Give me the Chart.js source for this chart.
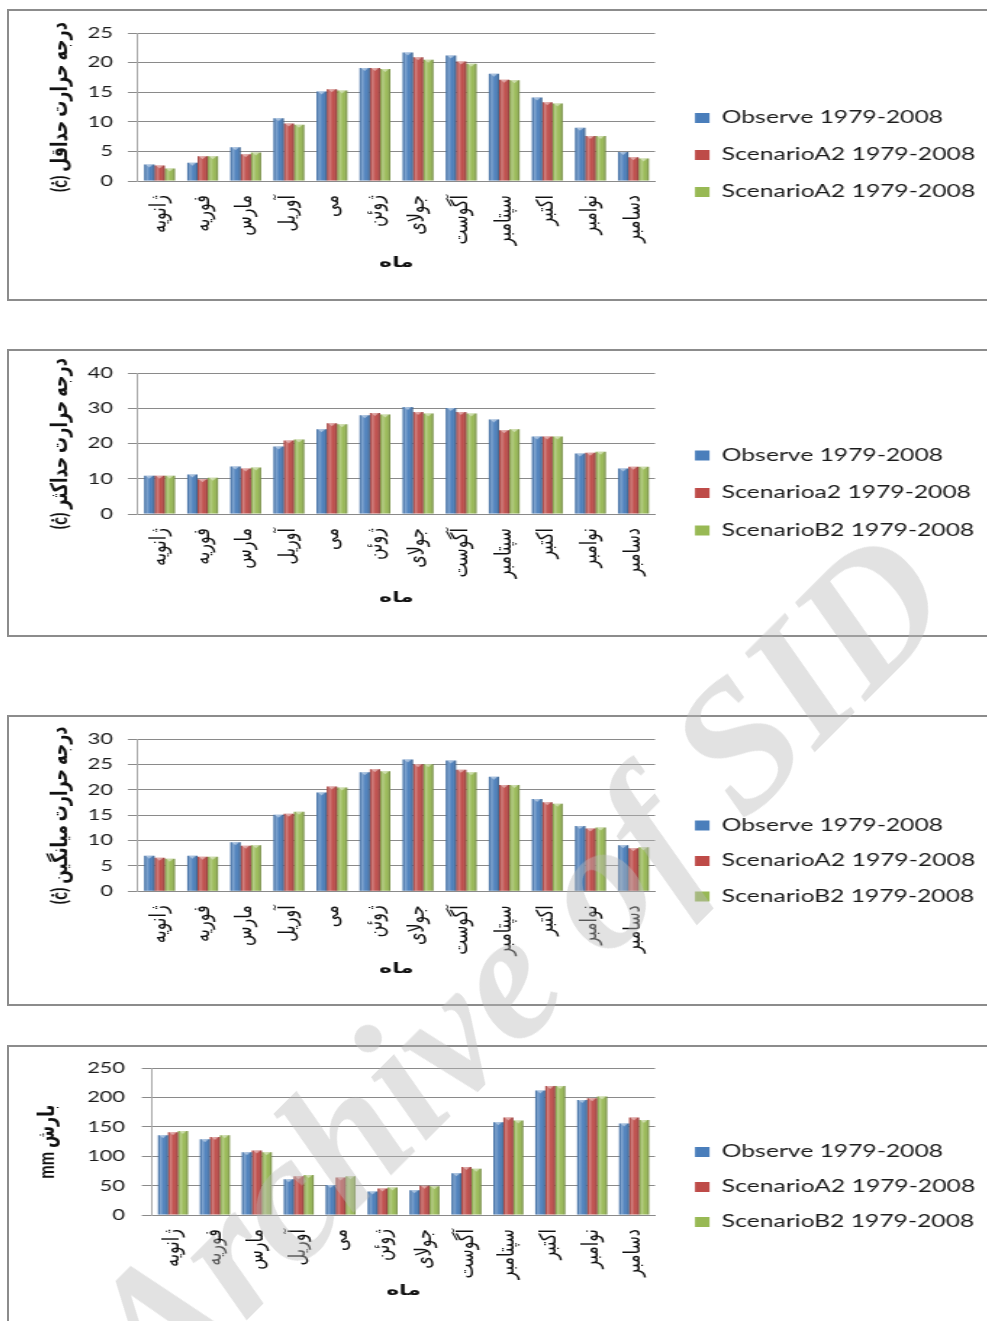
<!DOCTYPE html>
<html lang="fa">
<head>
<meta charset="utf-8">
<script src="https://cdn.jsdelivr.net/npm/chart.js@4.4.1/dist/chart.umd.min.js"></script>
<style>
  html, body { margin: 0; padding: 0; background: #fff; overflow: hidden; }
  body { width: 987px; height: 1321px; position: relative; }
  .panel { position: absolute; left: 7px; width: 1010px; border: 2px solid #8c8c8c; background: #fff; overflow: hidden; }
  .stretch { position: absolute; left: 0; top: 0; transform-origin: 0 0; }
  .stretch canvas { display: block; }
  .watermark {
    position: absolute; left: 515px; top: 965px;
    transform: translate(-50%, -50%) rotate(-45deg);
    font: italic bold 182px "Liberation Serif", "DejaVu Serif", serif;
    color: rgba(185, 185, 185, 0.42);
    white-space: nowrap; pointer-events: none;
  }
</style>
</head>
<body>
<div class="panel" id="p1"><div class="stretch"><canvas id="c1"></canvas></div></div>
<div class="panel" id="p2"><div class="stretch"><canvas id="c2"></canvas></div></div>
<div class="panel" id="p3"><div class="stretch"><canvas id="c3"></canvas></div></div>
<div class="panel" id="p4"><div class="stretch"><canvas id="c4"></canvas></div></div>
<div class="watermark">Archive of SID</div>

<script>
// ---- data ----
const months = ['ژانویه', 'فوریه', 'مارس', 'آوریل', 'می', 'ژوئن', 'جولای', 'آگوست', 'سپتامبر', 'اکتبر', 'نوامبر', 'دسامبر'];

const tminObserve = [2.8, 3.1, 5.7, 10.6, 15.1, 19.1, 21.7, 21.2, 18.1, 14.1, 9.0, 4.9];
const tminA2      = [2.6, 4.2, 4.5, 9.7, 15.5, 19.1, 20.9, 20.2, 17.1, 13.3, 7.6, 4.0];
const tminB2      = [2.1, 4.2, 4.8, 9.5, 15.3, 18.9, 20.5, 19.8, 17.0, 13.1, 7.6, 3.8];

const tmaxObserve = [10.9, 11.2, 13.5, 19.2, 24.1, 28.1, 30.4, 30.1, 26.9, 22.0, 17.2, 12.9];
const tmaxA2      = [10.9, 9.9, 12.9, 20.9, 25.8, 28.7, 29.0, 29.0, 23.8, 22.0, 17.4, 13.4];
const tmaxB2      = [10.9, 10.3, 13.2, 21.2, 25.5, 28.3, 28.6, 28.6, 24.1, 22.0, 17.7, 13.4];

const tmeanObserve = [7.0, 7.0, 9.7, 15.1, 19.5, 23.5, 26.0, 25.8, 22.6, 18.2, 12.9, 9.1];
const tmeanA2      = [6.6, 6.8, 9.0, 15.3, 20.7, 24.1, 25.1, 24.0, 21.0, 17.6, 12.4, 8.5];
const tmeanB2      = [6.4, 6.8, 9.1, 15.7, 20.5, 23.7, 25.1, 23.5, 21.0, 17.3, 12.6, 8.7];

const rainObserve = [136, 129, 107, 61, 51, 40, 42, 71, 158, 212, 196, 156];
const rainA2      = [141, 133, 110, 66, 64, 45, 50, 82, 166, 220, 199, 166];
const rainB2      = [143, 136, 107, 68, 66, 47, 49, 79, 161, 220, 202, 162];

const seriesMin = ['Observe 1979-2008', 'ScenarioA2 1979-2008', 'ScenarioA2 1979-2008'];
const seriesMax = ['Observe 1979-2008', 'Scenarioa2 1979-2008', 'ScenarioB2 1979-2008'];
const seriesStd = ['Observe 1979-2008', 'ScenarioA2 1979-2008', 'ScenarioB2 1979-2008'];

const ticksMin  = [0, 5, 10, 15, 20, 25];
const ticksMax  = [0, 10, 20, 30, 40];
const ticksMean = [0, 5, 10, 15, 20, 25, 30];
const ticksRain = [0, 50, 100, 150, 200, 250];

const titleMin  = 'درجه حرارت حداقل (ċ)';
const titleMax  = 'درجه حرارت حداکثر (ċ)';
const titleMean = 'درجه حرارت میانگین (ċ)';
const titleRain = 'بارش mm';
const titleMonth = 'ماه';

// ---- styling ----
const SERIES_COLORS = ['#4a7ebb', '#be4b48', '#98b954'];
const S = 1.45;          // horizontal stretch applied to every drawing
const CANVAS_W = 690;
const FONT = 'Lato, "DejaVu Sans", sans-serif';
Chart.defaults.font.family = FONT;
Chart.defaults.color = '#1a1a1a';

// keeps the legend at a fixed width and lets it be nudged after layout
const legendPlacement = {
  id: 'legendPlacement',
  beforeLayout(chart, args, opts) {
    const lg = chart.legend;
    if (lg && !lg.$fixedWidth) {
      const fit = lg.fit;
      lg.fit = function () { fit.call(this); this.width = opts.width; };
      lg.$fixedWidth = true;
    }
  },
  afterLayout(chart, args, opts) {
    const lg = chart.legend;
    if (!lg) return;
    lg.left += opts.dx; lg.right += opts.dx;
    lg.top += opts.dy; lg.bottom += opts.dy;
  }
};

// shaded, bevelled look for each bar
const barShade = {
  id: 'barShade',
  afterDatasetDraw(chart, args) {
    const ctx = chart.ctx;
    ctx.save();
    args.meta.data.forEach(bar => {
      const {x, y, base, width} = bar.getProps(['x', 'y', 'base', 'width'], true);
      const l = x - width / 2;
      const h = base - y;
      if (h <= 0) return;
      const g = ctx.createLinearGradient(l, 0, l + width, 0);
      g.addColorStop(0, 'rgba(0,0,0,0.10)');
      g.addColorStop(0.25, 'rgba(255,255,255,0.30)');
      g.addColorStop(0.6, 'rgba(255,255,255,0.02)');
      g.addColorStop(1, 'rgba(0,0,0,0.30)');
      ctx.fillStyle = g;
      ctx.fillRect(l, y, width, h);
      ctx.fillStyle = 'rgba(255,255,255,0.45)';
      ctx.beginPath();
      ctx.moveTo(l + 1, y);
      ctx.lineTo(l + width - 1, y);
      ctx.lineTo(x, y + Math.min(3, h));
      ctx.closePath();
      ctx.fill();
    });
    ctx.restore();
  }
};

function rtl(text) { return '\u202B' + text + '\u202C'; }

function buildChart(p) {
  const wrap = document.getElementById(p.panel);
  wrap.style.top = p.top + 'px';
  wrap.style.height = p.height + 'px';
  const st = wrap.querySelector('.stretch');
  st.style.transform = 'scaleX(' + S + ')';
  const canvas = st.querySelector('canvas');
  canvas.width = CANVAS_W;
  canvas.height = p.height;

  const innerTop = p.top + 2;
  const ix = v => (v - 9) / S;
  const iy = v => v - innerTop;

  const padT = iy(p.plotTop);
  const padB = 4;
  const plotBottom = iy(p.plotBottom);
  const xAxisH = p.height - padB - plotBottom;
  const yAxisW = ix(p.axisLeft);
  const plotRight = ix(p.plotRight);
  const legendW = CANVAS_W - plotRight;
  const legendFont = 17;
  const legendPad = p.legendStep - legendFont;
  const legendDx = ix(p.legendBoxX) - plotRight - legendPad;
  const legendDy = iy(p.legendMid) - (padT + p.height - padB) / 2;
  const tickLen = 7;
  const yTitleFont = 16, xTitleFont = 15;

  const ticks = p.ticks;
  return new Chart(canvas, {
    type: 'bar',
    data: {
      labels: months,
      datasets: p.series.map((values, i) => ({
        label: p.names[i],
        data: values,
        backgroundColor: SERIES_COLORS[i],
        borderWidth: 0,
        categoryPercentage: 0.714,
        barPercentage: 1.0
      }))
    },
    options: {
      responsive: false,
      animation: false,
      devicePixelRatio: 1,
      layout: { padding: { top: padT, bottom: padB, left: 0, right: 0 } },
      plugins: {
        tooltip: { enabled: false },
        legend: {
          position: 'right',
          align: 'center',
          labels: {
            boxWidth: 10, boxHeight: 10,
            padding: legendPad,
            font: { size: legendFont },
            color: '#1a1a1a'
          }
        },
        legendPlacement: { width: legendW, dx: legendDx, dy: legendDy }
      },
      scales: {
        x: {
          grid: { display: false, drawTicks: false },
          border: { display: true, color: '#8a8a8a', width: 1 },
          ticks: {
            autoSkip: false, minRotation: 90, maxRotation: 90,
            padding: 14,
            font: { family: '"DejaVu Sans", sans-serif', size: 16 },
            color: '#111'
          },
          title: {
            display: true, text: titleMonth,
            font: { family: FONT, size: xTitleFont, weight: 'bold' },
            color: '#111',
            padding: { top: 0, bottom: (p.height - padB) - xTitleFont * 0.6 - iy(p.titleY) }
          },
          afterFit(scale) { scale.height = xAxisH; }
        },
        y: {
          min: ticks[0], max: ticks[ticks.length - 1],
          grid: { color: '#8a8a8a', lineWidth: 1, tickLength: tickLen, drawTicks: true },
          border: { display: true, color: '#a8a8a8', width: 1 },
          ticks: {
            stepSize: ticks[1] - ticks[0],
            padding: yAxisW - tickLen - ix(p.tickRight),
            font: { size: 15 },
            color: '#1a1a1a'
          },
          title: {
            display: true, text: rtl(p.yTitle),
            font: { family: FONT, size: yTitleFont, weight: 'bold' },
            color: '#111',
            padding: { top: ix(p.yTitleX) - yTitleFont * 0.6, bottom: 0 }
          },
          afterFit(scale) { scale.width = yAxisW; }
        }
      }
    },
    plugins: [legendPlacement, barShade]
  });
}

const panels = [
  { panel: 'p1', top: 9, height: 288, plotTop: 33, plotBottom: 181, axisLeft: 138, plotRight: 655,
    tickRight: 113, yTitleX: 60, titleY: 262, legendMid: 155, legendStep: 37, legendBoxX: 695,
    ticks: ticksMin, yTitle: titleMin, names: seriesMin, series: [tminObserve, tminA2, tminB2] },
  { panel: 'p2', top: 349, height: 284, plotTop: 373.3, plotBottom: 514, axisLeft: 138, plotRight: 655,
    tickRight: 113, yTitleX: 60, titleY: 597, legendMid: 493, legendStep: 37.5, legendBoxX: 695,
    ticks: ticksMax, yTitle: titleMax, names: seriesMax, series: [tmaxObserve, tmaxA2, tmaxB2] },
  { panel: 'p3', top: 715, height: 287, plotTop: 739.3, plotBottom: 891.3, axisLeft: 138, plotRight: 655,
    tickRight: 113, yTitleX: 60, titleY: 968, legendMid: 861, legendStep: 35.5, legendBoxX: 695,
    ticks: ticksMean, yTitle: titleMean, names: seriesStd, series: [tmeanObserve, tmeanA2, tmeanB2] },
  { panel: 'p4', top: 1045, height: 290, plotTop: 1068.3, plotBottom: 1215, axisLeft: 152, plotRight: 655,
    tickRight: 125, yTitleX: 47, titleY: 1290, legendMid: 1187, legendStep: 35, legendBoxX: 695,
    ticks: ticksRain, yTitle: titleRain, names: seriesStd, series: [rainObserve, rainA2, rainB2] }
];

panels.forEach(buildChart);
</script>
</body>
</html>
